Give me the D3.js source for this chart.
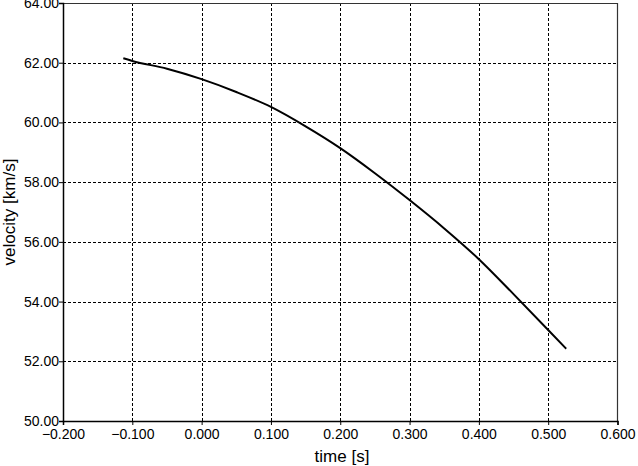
<!DOCTYPE html>
<html>
<head>
<meta charset="utf-8">
<script src="https://cdn.jsdelivr.net/npm/d3@7"></script>
<style>
  body { margin: 0; background: #fff; }
  svg { display: block; font-family: "Liberation Sans", Arial, sans-serif; }
  .tick text { font-size: 14px; fill: #000; }
  .grid line { stroke: #000; stroke-dasharray: 3,2; stroke-width: 1; }
  .axisTitle { font-size: 17px; fill: #000; }
</style>
</head>
<body>
<script>
// Width and height
var w = 638,
    h = 466;

var margin = { left: 63, right: 20, top: 3, bottom: 45 };

// Values
var times = [-0.113, -0.1, -0.05, 0, 0.05, 0.1, 0.15, 0.2, 0.25, 0.3, 0.35, 0.4, 0.45, 0.5, 0.526];
var velocities = [62.15, 62.06, 61.8, 61.45, 61.02, 60.52, 59.87, 59.14, 58.3, 57.4, 56.45, 55.42, 54.25, 53.05, 52.42];
var xTicks = [-0.2, -0.1, 0, 0.1, 0.2, 0.3, 0.4, 0.5, 0.6];
var yTicks = [50, 52, 54, 56, 58, 60, 62, 64];

var dataset = times.map(function(t, i) {
  return { time: t, velocity: velocities[i] };
});

var svg = d3.select('body')
            .append('svg')
            .attr('width', w)
            .attr('height', h);

var xScale = d3.scaleLinear()
               .domain([-0.2, 0.6])
               .range([margin.left, w - margin.right - 0.5]);

var yScale = d3.scaleLinear()
               .domain([50, 64])
               .range([h - margin.bottom, margin.top]);

// Grid lines (dashed)
svg.append('g')
   .attr('class', 'grid')
   .selectAll('line.v')
   .data(xTicks.slice(1, -1))
   .enter().append('line')
   .attr('x1', function(d) { return Math.round(xScale(d)) + 0.5; })
   .attr('x2', function(d) { return Math.round(xScale(d)) + 0.5; })
   .attr('y1', yScale(64))
   .attr('y2', yScale(50));

svg.append('g')
   .attr('class', 'grid')
   .selectAll('line.h')
   .data(yTicks.slice(1, -1))
   .enter().append('line')
   .attr('x1', xScale(-0.2))
   .attr('x2', xScale(0.6))
   .attr('y1', function(d) { return Math.round(yScale(d)) + 0.5; })
   .attr('y2', function(d) { return Math.round(yScale(d)) + 0.5; });

// Top and right frame
svg.append('path')
   .attr('d', 'M' + xScale(-0.2) + ',' + (yScale(64) + 0.5) +
              'H' + (xScale(0.6)) + 'V' + yScale(50))
   .attr('fill', 'none')
   .attr('stroke', '#333')
   .attr('stroke-width', 1.2);

// Curve
var line = d3.line()
             .x(function(d) { return xScale(d.time); })
             .y(function(d) { return yScale(d.velocity); })
             .curve(d3.curveMonotoneX);

svg.append('path')
   .datum(dataset)
   .attr('fill', 'none')
   .attr('stroke', '#000')
   .attr('stroke-width', 2)
   .attr('d', line);

// Axes
var xAxis = d3.axisBottom(xScale)
              .tickValues(xTicks)
              .tickSize(4)
              .tickFormat(d3.format('.3f'));

var yAxis = d3.axisLeft(yScale)
              .tickValues(yTicks)
              .tickSize(4)
              .tickFormat(d3.format('.2f'));

var gx = svg.append('g')
   .attr('transform', 'translate(0,' + yScale(50) + ')')
   .call(xAxis);
gx.select('.domain').attr('stroke-width', 1.5);
gx.selectAll('.tick text').attr('dy', '0.95em').attr('y', 5);

var gy = svg.append('g')
   .attr('transform', 'translate(' + xScale(-0.2) + ',0)')
   .call(yAxis);
gy.select('.domain').attr('stroke-width', 1.5);
gy.selectAll('.tick text').attr('x', -4);

// Axis titles
svg.append('text')
   .attr('class', 'axisTitle')
   .attr('x', 342)
   .attr('y', 462)
   .attr('text-anchor', 'middle')
   .text('time [s]');

svg.append('text')
   .attr('class', 'axisTitle')
   .attr('transform', 'translate(15,212) rotate(-90)')
   .attr('text-anchor', 'middle')
   .text('velocity [km/s]');
</script>
</body>
</html>
